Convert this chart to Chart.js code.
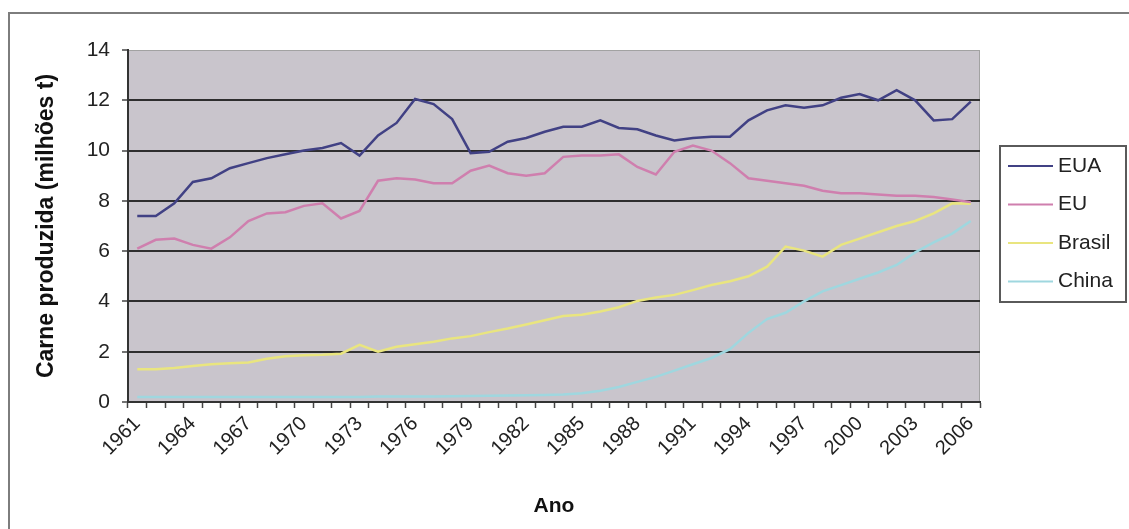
<!DOCTYPE html>
<html>
<head>
<meta charset="utf-8">
<script src="https://cdn.jsdelivr.net/npm/chart.js@4.4.1/dist/chart.umd.min.js"></script>
<style>
  html, body { margin: 0; padding: 0; background: #fff; overflow: hidden; }
  #wrap { position: relative; width: 1129px; height: 529px; }
  #frame { position: absolute; left: 8px; top: 12px; width: 1140px; height: 540px;
           border: 2px solid #7d7d7d; box-sizing: border-box; }
  canvas { position: absolute; left: 0; top: 0; }
</style>
</head>
<body>
<div id="wrap">
  <div id="frame"></div>
  <canvas id="c" width="1129" height="529"></canvas>
</div>
<script>
// Anos (categorias)
const anos = ['1961','1962','1963','1964','1965','1966','1967','1968','1969','1970',
              '1971','1972','1973','1974','1975','1976','1977','1978','1979','1980',
              '1981','1982','1983','1984','1985','1986','1987','1988','1989','1990',
              '1991','1992','1993','1994','1995','1996','1997','1998','1999','2000',
              '2001','2002','2003','2004','2005','2006'];

// Carne produzida (milhões t)
const eua = [7.4, 7.4, 7.9, 8.75, 8.9, 9.3, 9.5, 9.7, 9.85, 10.0,
             10.1, 10.3, 9.8, 10.6, 11.1, 12.05, 11.85, 11.25, 9.9, 9.95,
             10.35, 10.5, 10.75, 10.95, 10.95, 11.2, 10.9, 10.85, 10.6, 10.4,
             10.5, 10.55, 10.55, 11.2, 11.6, 11.8, 11.7, 11.8, 12.1, 12.25,
             12.0, 12.4, 12.0, 11.2, 11.25, 11.95];
const ue = [6.1, 6.45, 6.5, 6.25, 6.1, 6.55, 7.2, 7.5, 7.55, 7.8,
            7.9, 7.3, 7.6, 8.8, 8.9, 8.85, 8.7, 8.7, 9.2, 9.4,
            9.1, 9.0, 9.1, 9.75, 9.8, 9.8, 9.85, 9.35, 9.05, 9.95,
            10.2, 10.0, 9.5, 8.9, 8.8, 8.7, 8.6, 8.4, 8.3, 8.3,
            8.25, 8.2, 8.2, 8.15, 8.05, 7.95];
const brasil = [1.3, 1.3, 1.35, 1.43, 1.5, 1.54, 1.57, 1.72, 1.82, 1.86,
                1.88, 1.92, 2.27, 2.0, 2.2, 2.3, 2.4, 2.53, 2.62, 2.78,
                2.92, 3.08, 3.25, 3.42, 3.47, 3.6, 3.77, 4.02, 4.16, 4.26,
                4.45, 4.65, 4.8, 5.0, 5.38, 6.18, 6.02, 5.78, 6.25, 6.5,
                6.75, 7.0, 7.2, 7.5, 7.9, 7.88];
const china = [0.2, 0.2, 0.2, 0.2, 0.2, 0.2, 0.2, 0.2, 0.2, 0.2,
               0.2, 0.2, 0.2, 0.22, 0.22, 0.22, 0.22, 0.23, 0.24, 0.25,
               0.26, 0.27, 0.28, 0.3, 0.35, 0.45, 0.6, 0.8, 1.0, 1.25,
               1.5, 1.75, 2.1, 2.75, 3.3, 3.55, 4.0, 4.4, 4.65, 4.9,
               5.15, 5.45, 5.95, 6.35, 6.7, 7.2];

const series = ['EUA', 'EU', 'Brasil', 'China'];
const cores = ['#414184', '#cf7fae', '#e9e57f', '#9fd7df'];
const yTicks = [0, 2, 4, 6, 8, 10, 12, 14];

const FONT = "'Liberation Sans', Arial, sans-serif";

// gray plot area with a thin frame
const plotBg = {
  id: 'plotBg',
  beforeDraw(chart) {
    const { ctx, chartArea: a } = chart;
    ctx.save();
    ctx.fillStyle = '#c9c5cc';
    ctx.fillRect(a.left, a.top, a.right - a.left, a.bottom - a.top);
    ctx.strokeStyle = '#a2a2a2';
    ctx.lineWidth = 1;
    ctx.strokeRect(a.left + 0.5, a.top + 0.5, a.right - a.left - 1, a.bottom - a.top - 1);
    ctx.restore();
  }
};

// boxed legend to the right of the plot
const legendBox = {
  id: 'legendBox',
  afterDraw(chart) {
    const { ctx, chartArea: a } = chart;
    const x = a.right + 20, y = 146, w = 126, h = 156;
    ctx.save();
    ctx.fillStyle = '#ffffff';
    ctx.fillRect(x, y, w, h);
    ctx.strokeStyle = '#5a5a5a';
    ctx.lineWidth = 2;
    ctx.strokeRect(x, y, w, h);
    ctx.font = '21px ' + FONT;
    ctx.textBaseline = 'middle';
    ctx.textAlign = 'left';
    chart.data.datasets.forEach((ds, i) => {
      const ry = y + 20 + i * 38.5;
      ctx.strokeStyle = ds.borderColor;
      ctx.lineWidth = 2;
      ctx.beginPath();
      ctx.moveTo(x + 8, ry);
      ctx.lineTo(x + 53, ry);
      ctx.stroke();
      ctx.fillStyle = '#222';
      ctx.fillText(ds.label, x + 58, ry);
    });
    ctx.restore();
  }
};

const valores = [eua, ue, brasil, china];

new Chart(document.getElementById('c'), {
  type: 'line',
  data: {
    labels: anos,
    datasets: series.map((nome, i) => ({
      label: nome,
      data: valores[i],
      borderColor: cores[i],
      backgroundColor: cores[i],
      borderWidth: 2.5,
      pointRadius: 0,
      tension: 0,
      fill: false
    }))
  },
  options: {
    responsive: false,
    animation: false,
    layout: { padding: { top: 50, right: 149, left: 0, bottom: 0 } },
    plugins: { legend: { display: false }, tooltip: { enabled: false } },
    scales: {
      x: {
        type: 'category',
        offset: true,
        afterFit(s) { s.height = 127; },
        grid: { display: true, drawOnChartArea: false, drawTicks: true, offset: true,
                tickLength: 6, color: '#444', tickColor: '#444', tickWidth: 1.5 },
        border: { display: true, color: '#333', width: 2 },
        ticks: {
          autoSkip: false, minRotation: 45, maxRotation: 45, padding: 4,
          color: '#222', font: { family: FONT, size: 20 },
          callback(v, i) { return i % 3 === 0 ? this.getLabelForValue(v) : ''; }
        },
        title: { display: true, text: 'Ano', color: '#111',
                 font: { family: FONT, size: 21, weight: 'bold' },
                 padding: { top: 0, bottom: 10 } }
      },
      y: {
        min: 0, max: 14,
        afterFit(s) { s.width = 128; },
        afterBuildTicks(s) { s.ticks = yTicks.map(v => ({ value: v })); },
        grid: {
          color: ctx => ctx.tick && ctx.tick.value === 14 ? 'rgba(0,0,0,0)' : '#2e2e2e',
          lineWidth: 2, tickLength: 6, tickColor: '#444', tickWidth: 1.5
        },
        border: { display: true, color: '#333', width: 2 },
        ticks: { padding: 12, color: '#222', font: { family: FONT, size: 21 } },
        title: { display: true, text: 'Carne produzida (milhões t)', color: '#111',
                 font: { family: FONT, size: 23, weight: 'bold' },
                 padding: { top: 33, bottom: 0 } }
      }
    }
  },
  plugins: [plotBg, legendBox]
});
</script>
</body>
</html>
